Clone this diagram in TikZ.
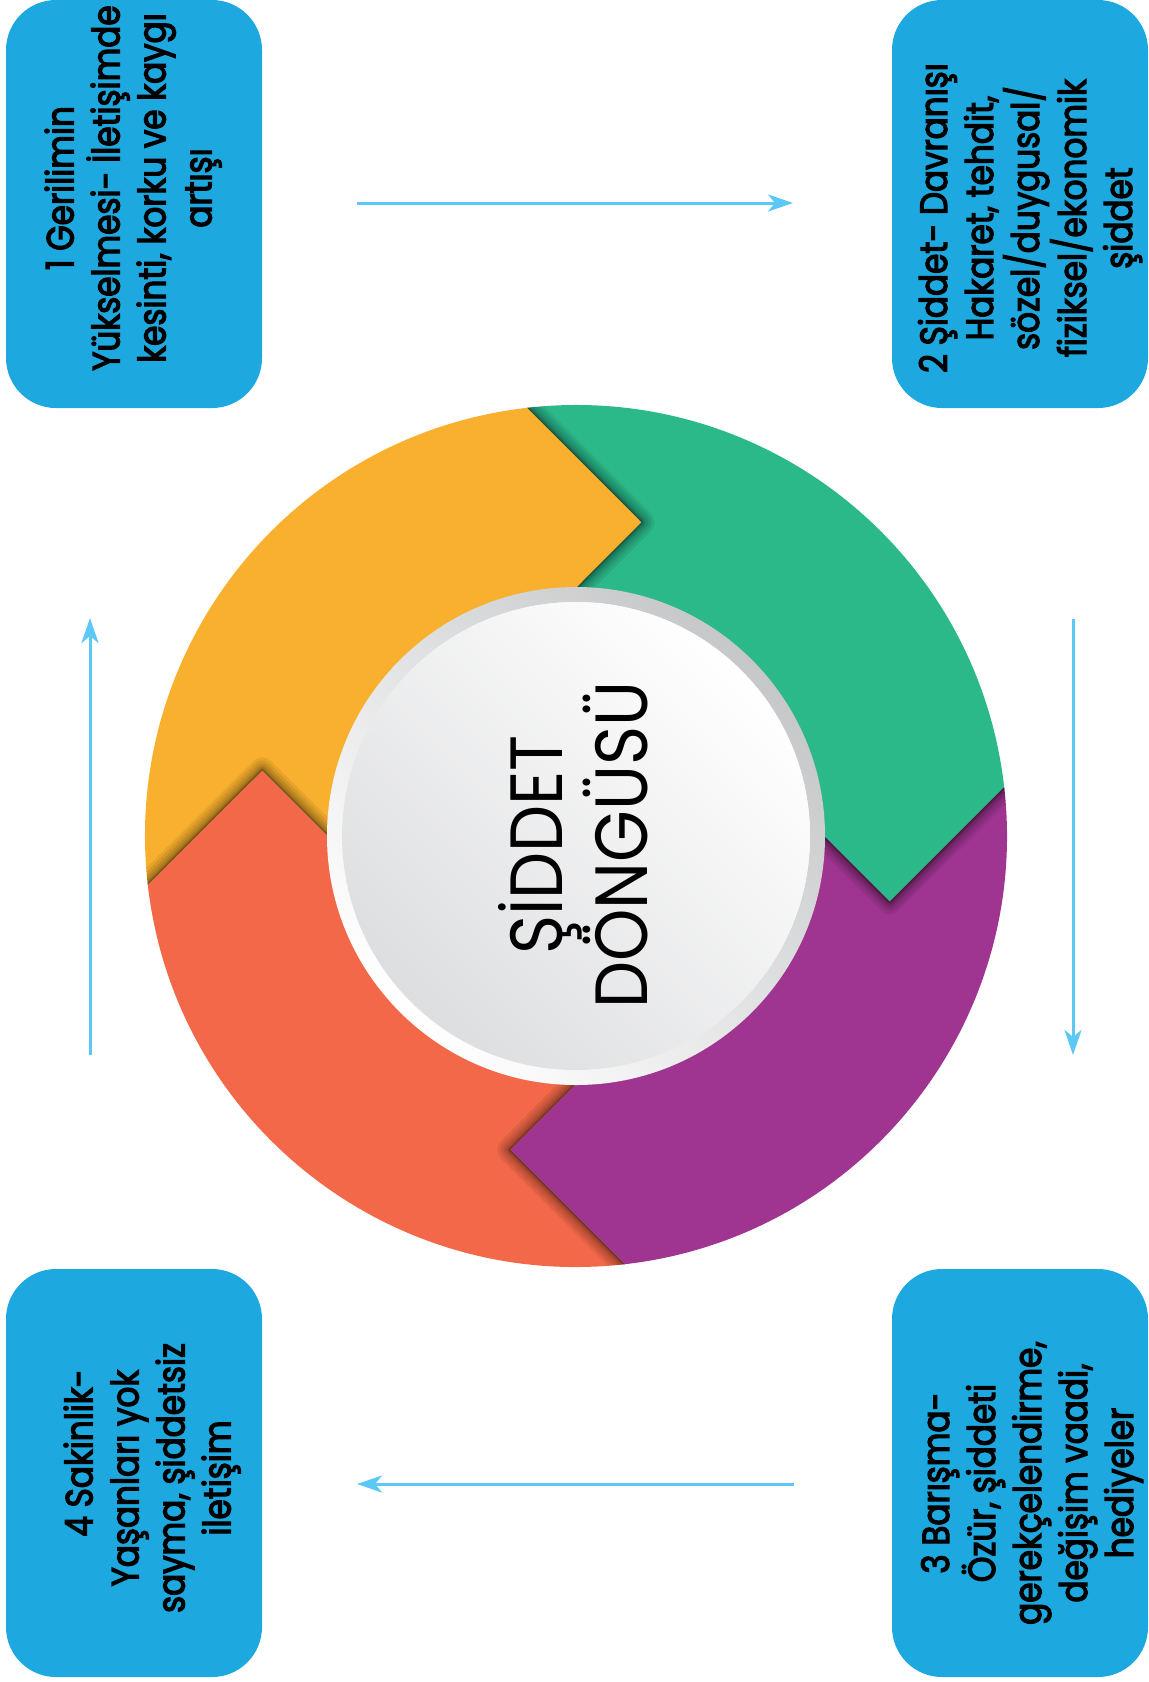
\documentclass[tikz,border=0pt]{standalone}
\usepackage{fontspec}
\usetikzlibrary{arrows.meta}
\newfontfamily\boxfont{Poppins}[FakeStretch=0.86, BoldFont={Poppins}, BoldFeatures={FakeBold=3.2}]
\newfontfamily\titlefont{Poppins}[FakeStretch=0.9]
\definecolor{segorange}{HTML}{F9B02E}
\definecolor{seggreen}{HTML}{2CB98A}
\definecolor{segpurple}{HTML}{A03591}
\definecolor{segcoral}{HTML}{F26849}
\definecolor{boxblue}{HTML}{1DA9E0}
\definecolor{arrowblue}{HTML}{5BC8F5}
\definecolor{ringgray}{HTML}{C6C7C9}
\definecolor{diskgray}{HTML}{DDDEE0}
% segment whose start boundary has its inner point at angle #1
\newcommand\segpath[1]{({#1+6.5}:431pt) arc[start angle={#1+6.5}, end angle={#1-83.5}, radius=431pt] -- ({#1-101.8}:320.5pt) -- ({#1-90}:248pt) arc[start angle={#1-90}, end angle={#1}, radius=248pt] -- ({#1-11.8}:320.5pt) -- cycle}
\newcommand\headpath[1]{({#1-83.5}:431pt) -- ({#1-101.8}:320.5pt) -- ({#1-90}:248pt)}
\newcommand\headshadow[1]{%
  \begin{scope}
    \clip \segpath{#1-90};
    \foreach \w/\o in {26/0.07,20/0.08,14/0.09,9/0.1,5/0.12,2.5/0.2}
      \draw[black, opacity=\o, line width=\w pt, line join=round] \headpath{#1};
  \end{scope}}
\begin{document}
\begin{tikzpicture}[x=1pt, y=1pt,
  box/.style={rectangle, fill=boxblue, draw=none, rounded corners=50pt,
    minimum width=256pt, minimum height=408pt, inner sep=0pt, outer sep=0pt},
  boxtext/.style={rotate=90, align=center, text=black, inner sep=0pt,
    font=\boxfont\bfseries\fontsize{38}{46}\selectfont},
  titletext/.style={rotate=90, align=center, text=black, inner sep=0pt,
    font=\titlefont\fontsize{74}{80}\selectfont},
  link/.style={draw=arrowblue, line width=3pt,
    -{Stealth[length=25pt, width=17pt, inset=7pt]}}]
\useasboundingbox (0,0) rectangle (1149,-1682);
\fill[white] (0,0) rectangle (1149,-1682);

% boxes
\node[box] (b1) at (134,-204) {};
\node[box] (b2) at (1020,-204) {};
\node[box] (b3) at (1020,-1473) {};
\node[box] (b4) at (134,-1473) {};

\node[boxtext] (t1) at (133,-188) {1 Gerilimin\\Yükselmesi- İletişimde\\kesinti, korku ve kaygı\\artışı};
\node[boxtext] (t2) at (1030,-218) {2 Şiddet- Davranışı\\Hakaret, tehdit,\\sözel/duygusal/\\fiziksel/ekonomik\\şiddet};
\node[boxtext] (t3) at (1032,-1483) {3 Barışma-\\Özür, şiddeti\\gerekçelendirme,\\değişim vaadi,\\hediyeler};
\node[boxtext] (t4) at (152,-1478) {\hspace*{50pt}4 Sakinlik-\\Yaşanları yok\\sayma, şiddetsiz\\iletişim};

% connectors
\coordinate (a1s) at (357,-203);
\coordinate (a1e) at (793,-203);
\coordinate (a2s) at (1073,-619);
\coordinate (a2e) at (1073,-1055);
\coordinate (a3s) at (794,-1484);
\coordinate (a3e) at (357,-1484);
\coordinate (a4s) at (90,-1055);
\coordinate (a4e) at (90,-618);
\draw[link] (a1s) -- (a1e);
\draw[link] (a2s) -- (a2e);
\draw[link] (a3s) -- (a3e);
\draw[link] (a4s) -- (a4e);

% cycle ring
\begin{scope}[shift={(576,-836)}]
  \fill[seggreen] \segpath{90};
  \fill[segpurple] \segpath{0};
  \fill[segcoral] \segpath{-90};
  \fill[segorange] \segpath{180};
  \headshadow{180}
  \headshadow{90}
  \headshadow{0}
  \headshadow{-90}
  \coordinate (cc) at (0,0);
  \shade[even odd rule, top color=ringgray, bottom color=white, shading angle=-45]
    (cc) circle[radius=249pt] (cc) circle[radius=234pt];
  \shade[top color=white, bottom color=diskgray, shading angle=-45]
    (cc) circle[radius=234pt];
\end{scope}

\node[titletext] (title) at (573,-845) {ŞİDDET\\DÖNGÜSÜ};
\end{tikzpicture}
\end{document}
